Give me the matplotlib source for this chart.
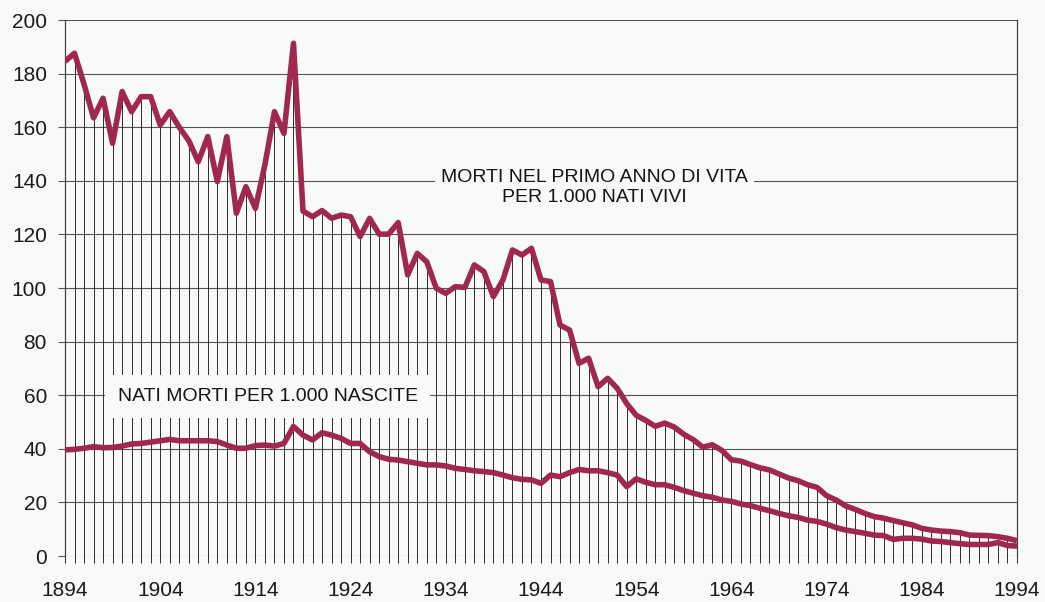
import numpy as np
import matplotlib
matplotlib.use("Agg")
import matplotlib.pyplot as plt

plt.rcParams['font.family'] = ['Liberation Sans', 'DejaVu Sans']

# --- Data ---
years = np.arange(1894, 1995)

# morti nel primo anno di vita per 1.000 nati vivi
infant_deaths = [
    184.6, 187.6, 176.0, 163.5, 170.8, 154.0, 173.3, 165.8, 171.4, 171.4,  # 1894-1903
    160.8, 165.8, 160.0, 155.0, 147.1, 156.5, 139.7, 156.5, 127.9, 137.8,  # 1904-1913
    129.7, 146.0, 165.8, 157.7, 191.3, 128.7, 126.6, 128.9, 126.0, 127.2,  # 1914-1923
    126.6, 119.2, 126.0, 120.1, 120.1, 124.4, 104.9, 112.9, 109.8, 99.9,   # 1924-1933
    98.0, 100.5, 100.2, 108.6, 106.1, 96.8, 103.0, 114.2, 112.3, 114.8,    # 1934-1943
    103.0, 102.4, 86.2, 84.3, 71.9, 73.8, 63.2, 66.3, 62.6, 56.9,          # 1944-1953
    52.5, 50.6, 48.4, 49.6, 48.1, 45.4, 43.4, 40.6, 41.5, 39.4,            # 1954-1963
    35.9, 35.4, 34.1, 32.9, 32.1, 30.6, 29.1, 28.1, 26.6, 25.6,            # 1964-1973
    22.5, 20.9, 18.7, 17.4, 15.9, 14.7, 14.1, 13.2, 12.4, 11.6,            # 1974-1983
    10.3, 9.7, 9.3, 9.1, 8.7, 7.8, 7.7, 7.6, 7.2, 6.6,                     # 1984-1993
    5.7,                                                                   # 1994
]

# nati morti per 1.000 nascite
stillbirths = [
    39.6, 39.8, 40.2, 40.8, 40.4, 40.5, 41.0, 41.8, 42.0, 42.5,            # 1894-1903
    43.0, 43.5, 43.0, 43.0, 43.0, 43.0, 42.7, 41.4, 40.2, 40.2,            # 1904-1913
    41.2, 41.4, 41.0, 42.0, 48.3, 45.1, 43.3, 46.0, 45.1, 43.9,            # 1914-1923
    42.0, 42.0, 38.9, 37.1, 36.1, 35.8, 35.2, 34.6, 34.0, 34.0,            # 1924-1933
    33.6, 32.7, 32.3, 31.8, 31.5, 31.1, 30.2, 29.2, 28.6, 28.4,            # 1934-1943
    27.1, 30.2, 29.6, 31.1, 32.3, 31.8, 31.8, 31.1, 30.2, 25.9,            # 1944-1953
    28.8, 27.5, 26.6, 26.6, 25.6, 24.4, 23.4, 22.5, 21.9, 20.9,            # 1954-1963
    20.4, 19.4, 18.8, 17.8, 16.9, 15.9, 15.0, 14.4, 13.4, 12.9,            # 1964-1973
    11.9, 10.6, 9.7, 9.1, 8.5, 7.8, 7.6, 6.2, 6.6, 6.6,                    # 1974-1983
    6.3, 5.6, 5.4, 5.0, 4.6, 4.3, 4.3, 4.3, 5.0, 3.9,                      # 1984-1993
    3.7,                                                                   # 1994
]

x_ticks = [1894, 1904, 1914, 1924, 1934, 1944, 1954, 1964, 1974, 1984, 1994]
y_ticks = [0, 20, 40, 60, 80, 100, 120, 140, 160, 180, 200]

label_infant = "MORTI NEL PRIMO ANNO DI VITA\nPER 1.000 NATI VIVI"
label_still = "NATI MORTI PER 1.000 NASCITE"

# --- Style ---
bg = '#f7faf6'
line_color = '#a0284f'
grid_color = '#555555'

fig = plt.figure(figsize=(10.45, 6.02), dpi=100, facecolor=bg)
ax = fig.add_axes([65 / 1045, 46 / 602, 952 / 1045, 536 / 602], facecolor=bg)

ax.set_xlim(years[0], years[-1])
ax.set_ylim(0, 200)

# horizontal grid
for y in y_ticks:
    ax.axhline(y, color=grid_color, lw=0.8, zorder=1)

# one thin vertical line per year, from below the axis up to the infant curve
ax.vlines(years, -2.6, infant_deaths, color='#2b2b2b', lw=0.7, zorder=1, clip_on=False)

ax.plot(years, infant_deaths, color=line_color, lw=4.0, solid_joinstyle='round',
        solid_capstyle='butt', zorder=5)
ax.plot(years, stillbirths, color=line_color, lw=4.0, solid_joinstyle='round',
        solid_capstyle='butt', zorder=5)

ax.text(1949.6, 137.5, label_infant, ha='center', va='center', fontsize=14,
        color='#141414', linespacing=1.25, zorder=4,
        bbox=dict(boxstyle='square,pad=0.3', fc=bg, ec='none'))
ax.text(1915.3, 59.5, label_still, ha='center', va='center', fontsize=14,
        color='#141414', zorder=4,
        bbox=dict(boxstyle='square,pad=0.65', fc=bg, ec='none'))

# axes / ticks
for side in ['top', 'bottom']:
    ax.spines[side].set_visible(False)
for side in ['left', 'right']:
    ax.spines[side].set_color('#444444')
    ax.spines[side].set_linewidth(0.9)

ax.set_yticks(y_ticks)
ax.set_xticks(x_ticks)
ax.tick_params(axis='y', length=5, width=0.8, color=grid_color, pad=8,
               labelsize=15, labelcolor='#1a1a1a')
ax.tick_params(axis='x', length=0, pad=18, labelsize=15, labelcolor='#1a1a1a')

fig.savefig('out.png', dpi=100, facecolor=bg)
